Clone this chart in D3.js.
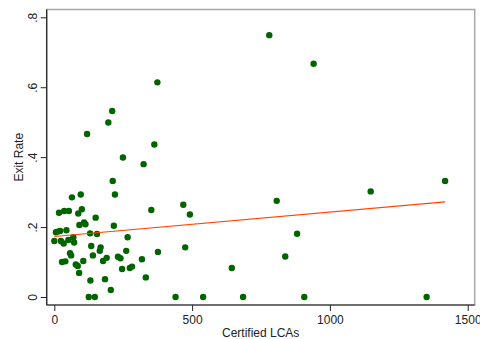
<!DOCTYPE html>
<html>
<head>
<meta charset="utf-8">
<script src="https://cdn.jsdelivr.net/npm/d3@7"></script>
<style>
  html, body { margin: 0; padding: 0; background: #fff; }
  svg { display: block; font-family: "Liberation Sans", Arial, sans-serif; }
</style>
</head>
<body>
<svg id="chart" width="480" height="339"></svg>
<script>
// Certified LCAs (x) and Exit Rate (y)
const lcas = [374,210,196,119,363,249,324,780,941,64,96,212,220,17,36,53,100,87,150,352,
  91,108,113,216,6,21,13,44,130,155,69,266,0,24,34,51,72,134,168,165,261,376,57,61,140,
  231,240,190,177,105,40,28,318,78,85,246,274,282,90,332,184,131,205,125,147,468,492,807,
  881,475,838,644,440,540,685,907,1148,1418,1351];
const exitRate = [0.614,0.532,0.499,0.466,0.436,0.399,0.380,0.749,0.667,0.285,0.293,0.332,0.293,0.241,0.246,0.246,0.251,0.239,0.227,0.249,
  0.206,0.213,0.208,0.204,0.185,0.189,0.187,0.191,0.182,0.180,0.171,0.171,0.160,0.160,0.153,0.163,0.156,0.146,0.142,0.132,0.132,0.129,0.125,0.119,0.119,
  0.115,0.111,0.112,0.103,0.103,0.102,0.100,0.108,0.093,0.089,0.080,0.083,0.087,0.069,0.056,0.051,0.047,0.020,0,0,0.264,0.236,0.275,
  0.181,0.142,0.116,0.083,0,0,0,0,0.302,0.332,0];
// Linear fit line endpoints (x, fitted y)
const fitX = [0, 1418];
const fitY = [0.173, 0.272];
const xTicks = [0, 500, 1000, 1500];
const yTicks = [0, 0.2, 0.4, 0.6, 0.8];
const yTickLabels = ["0", ".2", ".4", ".6", ".8"];

const svg = d3.select("#chart");
const x = d3.scaleLinear().domain([0, 1500]).range([54.3, 467.7]);
const y = d3.scaleLinear().domain([0, 0.8]).range([297, 17.3]);

const pLeft = 46.7, pRight = 474.7, pTop = 9.5, pBottom = 305;

// frame (gray)
svg.append("rect").attr("x", pLeft).attr("y", pTop)
  .attr("width", pRight - pLeft).attr("height", pBottom - pTop)
  .attr("fill", "none").attr("stroke", "#a8a8a8").attr("stroke-width", 1.5);

// points
svg.append("g").selectAll("circle").data(lcas.map((d, i) => [d, exitRate[i]]))
  .join("circle")
  .attr("cx", d => x(d[0])).attr("cy", d => y(d[1])).attr("r", 3.2)
  .attr("fill", "#006400");

// fit line
svg.append("line")
  .attr("x1", x(fitX[0])).attr("y1", y(fitY[0]))
  .attr("x2", x(fitX[1])).attr("y2", y(fitY[1]))
  .attr("stroke", "#ff4500").attr("stroke-width", 1.1);

// y axis
const yAxis = d3.axisLeft(y).tickValues(yTicks).tickSize(6).tickPadding(3)
  .tickFormat((d, i) => yTickLabels[i]);
const gy = svg.append("g").attr("transform", `translate(${pLeft},0)`).call(yAxis);
gy.select(".domain").attr("d", `M0,${pTop}V${pBottom}`).attr("stroke", "#222").attr("stroke-width", 1.2);
gy.selectAll(".tick line").attr("stroke", "#222");
gy.selectAll(".tick text")
  .attr("x", 0).attr("dy", 0)
  .attr("transform", "translate(-10,0) rotate(-90)")
  .attr("text-anchor", "middle")
  .attr("font-size", 12).attr("fill", "#222")
  .attr("font-family", "Liberation Sans, Arial, sans-serif");

// x axis
const xAxis = d3.axisBottom(x).tickValues(xTicks).tickSize(6).tickPadding(4)
  .tickFormat(d3.format("d"));
const gx = svg.append("g").attr("transform", `translate(0,${pBottom})`).call(xAxis);
gx.select(".domain").attr("d", `M${pLeft},0H${pRight}`).attr("stroke", "#222").attr("stroke-width", 1.2);
gx.selectAll(".tick line").attr("stroke", "#222");
gx.selectAll(".tick text").attr("font-size", 12).attr("fill", "#222")
  .attr("font-family", "Liberation Sans, Arial, sans-serif");

// axis titles
svg.append("text").attr("x", (pLeft + pRight) / 2).attr("y", 337)
  .attr("text-anchor", "middle").attr("font-size", 12).attr("fill", "#222")
  .text("Certified LCAs");
svg.append("text")
  .attr("transform", `translate(23,${(pTop + pBottom) / 2}) rotate(-90)`)
  .attr("text-anchor", "middle").attr("font-size", 12).attr("fill", "#222")
  .text("Exit Rate");
</script>
</body>
</html>
